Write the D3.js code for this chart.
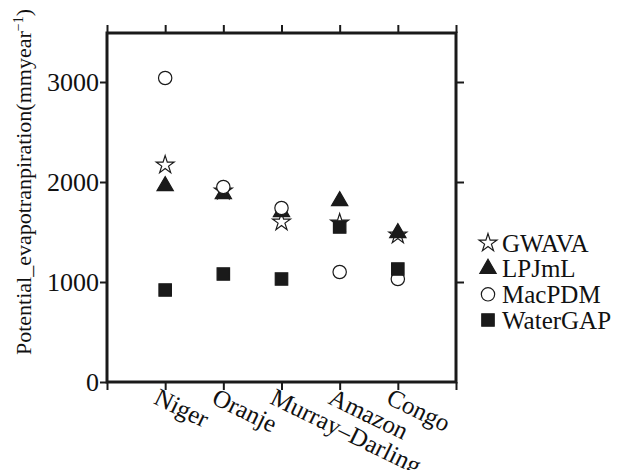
<!DOCTYPE html>
<html>
<head>
<meta charset="utf-8">
<script src="https://cdn.jsdelivr.net/npm/d3@7"></script>
<style>
  body { margin: 0; background: #fff; }
  text { font-family: "Liberation Serif", "DejaVu Serif", serif; fill: #111; }
</style>
</head>
<body>
<svg id="chart" width="627" height="470"></svg>
<script>
const basins = ["Niger", "Oranje", "Murray\u2013Darling", "Amazon", "Congo"];
const gwava    = [2170, 1910, 1600, 1590, 1470];
const lpjml    = [1960, 1880, 1700, 1810, 1490];
const macpdm   = [3040, 1950, 1740, 1100, 1030];
const watergap = [920, 1080, 1030, 1550, 1130];
const yTicks = [0, 1000, 2000, 3000];

const models = [
  { name: "GWAVA", values: gwava, shape: "star" },
  { name: "LPJmL", values: lpjml, shape: "triangle" },
  { name: "MacPDM", values: macpdm, shape: "circle" },
  { name: "WaterGAP", values: watergap, shape: "square" }
];

var svg = d3.select("#chart");
var plotL = 107, plotR = 456, plotT = 33, plotB = 382;

var x = d3.scaleLinear().domain([0, basins.length + 1]).range([plotL, plotR]);
var y = d3.scaleLinear().domain([0, 3490]).range([plotB, plotT]);

var xTickVals = d3.range(0, basins.length + 2);

// box
svg.append("rect")
  .attr("x", plotL).attr("y", plotT)
  .attr("width", plotR - plotL).attr("height", plotB - plotT)
  .style("fill", "none").style("stroke", "#1a1a1a").style("stroke-width", 3);

// axes
var fmt = () => "";
svg.append("g").attr("class", "ax")
  .attr("transform", "translate(0," + plotB + ")")
  .call(d3.axisBottom(x).tickValues(xTickVals).tickFormat(fmt).tickSize(8).tickSizeOuter(0));
svg.append("g").attr("class", "ax")
  .attr("transform", "translate(0," + plotT + ")")
  .call(d3.axisTop(x).tickValues(xTickVals).tickFormat(fmt).tickSize(8).tickSizeOuter(0));
var yAxisG = svg.append("g").attr("class", "ax yl")
  .attr("transform", "translate(" + plotL + ",0)")
  .call(d3.axisLeft(y).tickValues(yTicks).tickFormat(d3.format("d")).tickSize(7).tickSizeOuter(0).tickPadding(1));
yAxisG.attr("font-size", 26).attr("font-family", "Liberation Serif");
yAxisG.selectAll("text").attr("fill", "#111").attr("dy", "0.34em");
svg.append("g").attr("class", "ax")
  .attr("transform", "translate(" + plotR + ",0)")
  .call(d3.axisRight(y).tickValues(yTicks.slice(1)).tickFormat(fmt).tickSize(8).tickSizeOuter(0));

svg.selectAll(".ax .domain").remove();
svg.selectAll(".ax line").style("stroke", "#1a1a1a").style("stroke-width", 2);

// x labels
svg.selectAll(".xlab").data(basins).enter()
  .append("text")
  .attr("class", "xlab")
  .attr("transform", (d, i) => "translate(" + (x(i + 1) - 4) + "," + (plotB + 3) + ") rotate(26)")
  .attr("dy", "0.8em")
  .attr("font-size", 25)
  .text(d => d);

// y title
svg.append("text")
  .attr("transform", "translate(31,182) rotate(-90)")
  .attr("text-anchor", "middle")
  .attr("font-size", 22)
  .html('Potential_evapotranpiration(mmyear<tspan dy="-8" font-size="14">\u22121</tspan><tspan dy="8">)</tspan>');

// symbols
function symbolPath(shape) {
  if (shape == "star") return d3.symbol().type(d3.symbolStar).size(100)();
  if (shape == "triangle") return d3.symbol().type(d3.symbolTriangle).size(115)();
  if (shape == "circle") return d3.symbol().type(d3.symbolCircle).size(140)();
  return d3.symbol().type(d3.symbolSquare).size(155)();
}
function styleMark(sel, shape) {
  var filled = shape == "triangle" || shape == "square";
  sel.attr("d", symbolPath(shape))
    .style("fill", filled ? "#1a1a1a" : "#fff")
    .style("stroke", "#1a1a1a")
    .style("stroke-width", 1.2);
}

models.forEach(function(m) {
  var g = svg.append("g");
  g.selectAll("path").data(m.values).enter()
    .append("path")
    .attr("transform", (d, i) => "translate(" + x(i + 1) + "," + y(d) + ")")
    .call(styleMark, m.shape);
});

// legend
var legendY = d3.scalePoint().domain(models.map(m => m.name)).range([243, 320]);
var lg = svg.append("g");
models.forEach(function(m) {
  lg.append("path")
    .attr("transform", "translate(488," + legendY(m.name) + ")")
    .call(styleMark, m.shape);
  lg.append("text")
    .attr("x", 502).attr("y", legendY(m.name)).attr("dy", "0.35em")
    .attr("font-size", 25)
    .text(m.name);
});
</script>
</body>
</html>
